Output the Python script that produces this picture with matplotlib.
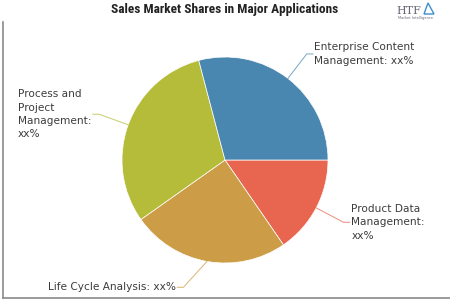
import numpy as np
import matplotlib
matplotlib.use("Agg")
import matplotlib.pyplot as plt
from matplotlib import font_manager
from matplotlib.patches import Polygon

# ---- data ----
categories = ["Product Data Management", "Life Cycle Analysis",
              "Process and Project Management", "Enterprise Content Management"]
labels = ["Product Data\nManagement:\nxx%", "Life Cycle Analysis: xx%",
          "Process and\nProject\nManagement:\nxx%", "Enterprise Content\nManagement: xx%"]
shares = [15.4, 24.8, 30.7, 29.1]
colors = ["#e8664f", "#cc9d46", "#b4bc39", "#4a87b0"]
title = "Sales Market Shares in Major Applications"


def pick(fams):
    names = {f.name for f in font_manager.fontManager.ttflist}
    for f in fams:
        if f in names:
            return f
    return "DejaVu Sans"


title_font = pick(["Liberation Sans Narrow", "DejaVu Sans Condensed",
                   "Roboto Condensed", "Open Sans Condensed", "DejaVu Sans"])

W, H = 450, 300
fig = plt.figure(figsize=(W / 100, H / 100), dpi=100)
fig.patch.set_facecolor("white")

# pie axes: center (225,160) px, radius ~103 px
cx, cy, r = 225, 160, 103
ax = fig.add_axes([(cx - r) / W, (H - cy - r) / H, 2 * r / W, 2 * r / H])

wedges, _ = ax.pie(shares, colors=colors, startangle=0, counterclock=False,
                   radius=1.0, center=(0, 0),
                   wedgeprops=dict(edgecolor="white", linewidth=0.5))
ax.set_xlim(-1, 1)
ax.set_ylim(-1, 1)
ax.set_aspect("equal")
ax.axis("off")

elbow_r = 1.3
adjust = {1: -8}  # label-avoidance shift of elbow angle (deg) for Life Cycle
for i, w in enumerate(wedges):
    mid0 = np.deg2rad((w.theta1 + w.theta2) / 2)
    mid = np.deg2rad((w.theta1 + w.theta2) / 2 + adjust.get(i, 0))
    x0, y0 = np.cos(mid0), np.sin(mid0)
    x1, y1 = elbow_r * np.cos(mid), elbow_r * np.sin(mid)
    side = 1 if x1 > 0 else -1
    x2 = x1 + side * 0.06
    ax.plot([x0, x1, x2], [y0, y1, y1], color=colors[i], lw=0.7,
            alpha=0.75, clip_on=False, solid_joinstyle="miter")
    ax.text(x2 + side * 0.015, y1, labels[i], ha="left" if side > 0 else "right",
            multialignment="left", va="center", fontsize=7.6, color="#3c3c3c",
            family="DejaVu Sans", linespacing=1.42)

# title
fig.text(0.5, 1 - 9.5 / H, title, ha="center", va="center",
         fontsize=9.6 if title_font != "DejaVu Sans" else 7.3,
         fontweight="heavy", family=title_font, color="#222222")

# logo-ish text
fig.text(409 / W, 1 - 11 / H, "HTF", ha="center", va="center", fontsize=8,
         family="DejaVu Serif", color="#6a6a78")
fig.text(416 / W, 1 - 18 / H, "Market Intelligence", ha="center", va="center",
         fontsize=2.6, color="#6a6a78")
fig.add_artist(Polygon([[424 / W, 1 - 14 / H], [434 / W, 1 - 14 / H],
                        [428 / W, 1 - 3 / H]], closed=True,
                       transform=fig.transFigure, facecolor="none",
                       edgecolor="#3d8fc9", lw=1.0))

# frame lines (left and bottom)
fig.add_artist(plt.Line2D([2.5 / W, 2.5 / W], [1 - 22 / H, 1 - 298 / H],
                          color="#8a8a8a", lw=1.2))
fig.add_artist(plt.Line2D([2.5 / W, 1.0], [1 - 298 / H, 1 - 298 / H],
                          color="#8a8a8a", lw=1.2))

fig.savefig("out.png", dpi=100, facecolor="white")
